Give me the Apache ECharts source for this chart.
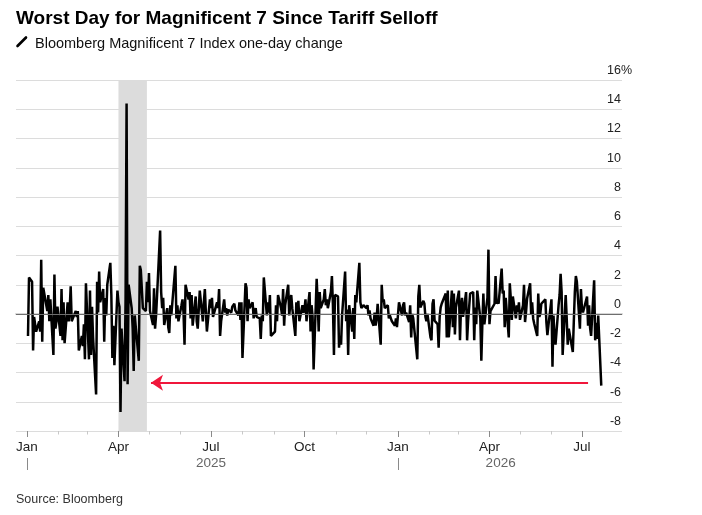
<!DOCTYPE html>
<html>
<head>
<meta charset="utf-8">
<script src="https://cdn.jsdelivr.net/npm/echarts@6/dist/echarts.min.js"></script>
<style>
  html, body { margin: 0; padding: 0; background: #fff; }
  #chart { width: 702px; height: 515px; }
</style>
</head>
<body>
<div id="chart"></div>
<script>
// Bloomberg Magnificent 7 Index, one-day % change, one array per month (trading days in order)
const jan25 = [-1.5, 2.5, 2.2, -2.5, -0.2, -1.2, -0.5, -1.2, 3.7, -1.9, 1.8, 0.2, 1.3, -0.5, 1.0, -2.8, 2.7, -1.0, -0.5, 0.5];
const feb25 = [-1.5, 1.7, -1.8, 0.8, -2.0, 0.8, -0.5, 0.3, 1.9, -0.5, 0.2, -0.2, 0.2, -2.5, -1.5, -2.2, -0.7, -3.1, 2.1];
const mar25 = [-3.1, 1.6, -2.8, 0.5, -1.6, -5.5, 2.2, 0.1, 2.9, 0.8, 1.7, -1.9, 1.1, -0.1, 2.0, 3.5, 1.3, -3.0, -0.8, -3.5, 1.6];
const apr25 = [0.8, 0.5, -6.7, -1.0, -4.6, 1.0, 14.4, -4.8, 2.0, 0.4, -1.0, -3.9, -0.1, -3.2, 3.3, 3.0, 2.9, 0.4, 0.2, 2.2, 0.8];
const may25 = [2.8, 0.2, -0.75, 1.75, -1.0, -0.1, 1.3, 5.7, 1.5, 0.4, 1.1, -0.75, 0.4, -0.9, -1.3, 0.6, -0.1, 3.3, -0.3, 0.6, -0.5];
const jun25 = [0.6, 1.0, 0.1, -2.1, 2.0, 1.0, 1.5, -0.3, 1.3, -0.8, 1.2, -0.5, -1.0, 1.6, -0.5, 0.8, 1.7, 0.1, -1.2, 1.0];
const jul25 = [0.4, 1.1, -0.2, 0.8, 0.4, 1.7, -1.5, -0.5, 1.0, 0.1, 0.4, -0.1, 0.3, 0.1, 0.5, 0.6, 0.7, 0.25, -0.1, 0.8, -0.4, 0.8];
const aug25 = [-3.0, 2.1, 1.8, -0.5, 1.0, 0.4, 0.8, -0.3, 0.1, 0.4, -0.2, -0.3, -1.7, -0.1, -0.5, 2.5, -0.1, 0.8, 0.1, 1.3, -1.5];
const sep25 = [-1.2, 0.6, -0.5, 1.3, 0.4, -0.1, 1.7, -0.8, 0.6, 2.0, -0.1, 0.6, 1.3, 0.4, -1.5, 0.8, -0.1, 0.9, -0.5, 0.6, 0.1];
const oct25 = [0.3, 1.0, -0.5, 1.5, -1.2, 0.6, -0.2, -3.8, 2.4, 0.8, -1.2, 1.5, 0.4, 1.0, 1.7, 0.6, 1.0, 0.4, 1.5, 2.6, 0.6, -2.8, 1.3];
const nov25 = [1.2, -2.3, -1.5, -2.1, -0.1, 2.9, -0.5, 0.3, -2.8, 0.6, -1.2, 0.4, -1.7, 1.3, 0.8, 3.5, 0.8, 0.4, 0.6];
const dec25 = [0.4, 0.6, -0.1, 0.25, -0.3, -0.8, 0.1, -0.8, -0.3, 0.7, -2.1, 2.0, 0.8, 1.0, 0.4, 0.6, -0.3, -0.1, -0.5, -0.8, -0.3, -0.9];
const jan26 = [0.8, -0.1, 0.6, 0.8, -0.1, 0.1, -0.55, 0.6, -1.6, 0.0, -0.3, -3.1, 1.2, 2.0, 0.45, 0.9, 0.7, -0.2, -0.5, 0.0];
const feb26 = [-1.6, -1.8, 0.7, 1.0, -0.45, -0.7, -2.3, -0.2, 0.45, 0.7, 1.4, -1.6, 1.6, -1.6, 1.6, -0.9, 1.4, -1.4, 0.45];
const mar26 = [1.6, -1.8, 0.45, 1.1, -0.2, 1.5, -1.8, -0.45, 0.45, 1.4, 1.5, -1.8, 0.45, -0.7, 1.6, -0.3, -3.2, -0.7, 1.4, -0.7, 1.1, 4.4];
const apr26 = [-0.7, 0.2, 0.7, 2.6, 0.7, 0.9, 0.7, 3.1, 1.4, 1.6, -0.9, 1.1, -1.6, 2.1, 1.05, -0.4, 1.2, -0.3, 0.6, 0.15, 0.8];
const may26 = [-0.4, 0.6, 2.0, -0.55, 0.15, 1.05, 2.1, 0.0, 0.8, -0.3, -0.65, -1.5, 1.4, -0.2, 0.0, 0.7, 1.0, -0.55, -1.45, -0.8];
const jun26 = [1.0, -3.6, -0.1, -1.5, -2.1, 0.6, 1.3, 2.75, 1.5, -2.8, 1.3, -0.3, -2.1, -1.0, -2.6, -0.5, 1.5, 2.6, 2.2, -1.0, 1.7];
const jul26 = [0.35, 0.1, 1.2, -0.8, 0.6, -0.95, -1.5, 2.3, -1.8, -0.6, -1.7, -0.1, -4.9];

// market closures
const holidays = ['2025-01-01', '2025-01-09', '2025-01-20', '2025-02-17', '2025-04-18', '2025-05-26',
  '2025-06-19', '2025-07-04', '2025-09-01', '2025-11-27', '2025-12-25', '2026-01-01', '2026-01-19',
  '2026-02-16', '2026-04-03', '2026-05-25', '2026-06-19', '2026-07-03'];

const monthNames = ['Jan', 'Feb', 'Mar', 'Apr', 'May', 'Jun', 'Jul', 'Aug', 'Sep', 'Oct', 'Nov', 'Dec'];
const quarterTicks = ['2025-01-01', '2025-04-01', '2025-07-01', '2025-10-01', '2026-01-01', '2026-04-01', '2026-07-01'];
const monthTicks = ['2025-02-01', '2025-03-01', '2025-05-01', '2025-06-01', '2025-08-01', '2025-09-01',
  '2025-11-01', '2025-12-01', '2026-02-01', '2026-03-01', '2026-05-01', '2026-06-01'];
const yearLabelDates = ['2025-07-01', '2026-04-12'];
const yearBreaks = ['2025-01-01', '2026-01-01'];
const tariffWindow = ['2025-04-01', '2025-04-29'];
const arrowFrom = ['2026-07-07', -4.7];
const arrowTo = ['2025-05-03', -4.7];

const DAY = 864e5;
const FONT = '"Liberation Sans", Arial, Helvetica, sans-serif';
const pad = n => String(n).padStart(2, '0');
const ts = s => {
  const [y, m, d] = s.split('-').map(Number);
  return new Date(y, m - 1, d).getTime();
};

function tradingDays(year, month) {
  const out = [];
  for (let d = 1; d <= 31; d++) {
    const dt = new Date(year, month - 1, d);
    if (dt.getMonth() !== month - 1) break;
    const key = `${year}-${pad(month)}-${pad(d)}`;
    if (dt.getDay() === 0 || dt.getDay() === 6 || holidays.includes(key)) continue;
    out.push(dt.getTime());
  }
  return out;
}

const months = [
  [2025, 1, jan25], [2025, 2, feb25], [2025, 3, mar25], [2025, 4, apr25], [2025, 5, may25],
  [2025, 6, jun25], [2025, 7, jul25], [2025, 8, aug25], [2025, 9, sep25], [2025, 10, oct25],
  [2025, 11, nov25], [2025, 12, dec25], [2026, 1, jan26], [2026, 2, feb26], [2026, 3, mar26],
  [2026, 4, apr26], [2026, 5, may26], [2026, 6, jun26], [2026, 7, jul26],
];

const points = [];
months.forEach(([y, m, vals]) => {
  const days = tradingDays(y, m);
  vals.forEach((v, i) => {
    if (days[i] !== undefined) points.push([days[i], v]);
  });
});

// x is a plain value axis over timestamps so ticks/labels can sit on chosen dates
const xMin = ts('2025-01-01') - 10.8 * DAY;
const xMax = ts('2025-01-01') + 585.4 * DAY;
const baseX = { type: 'value', position: 'bottom', min: xMin, max: xMax, splitLine: { show: false } };
const tickOnly = (values, length, color, extra) => ({
  ...baseX,
  ...extra,
  axisLine: { show: false },
  axisTick: { show: true, customValues: values.map(ts), length, lineStyle: { color, width: 1 } },
  axisLabel: { show: false },
});

const chart = echarts.init(document.getElementById('chart'));

chart.setOption({
  animation: false,
  backgroundColor: '#fff',
  title: [
    {
      text: 'Worst Day for Magnificent 7 Since Tariff Selloff',
      left: 11, top: 4,
      textStyle: { fontFamily: FONT, fontSize: 19, fontWeight: 'bold', color: '#000' },
    },
    {
      text: 'Bloomberg Magnificent 7 Index one-day change',
      left: 30, top: 31,
      textStyle: { fontFamily: FONT, fontSize: 14.5, fontWeight: 'normal', color: '#111' },
    },
    {
      text: 'Source: Bloomberg',
      left: 11, top: 488,
      textStyle: { fontFamily: FONT, fontSize: 12.5, fontWeight: 'normal', color: '#333' },
    },
  ],
  graphic: [
    {
      type: 'line',
      shape: { x1: 17.5, y1: 46, x2: 26, y2: 37.5 },
      style: { stroke: '#000', lineWidth: 2.6, lineCap: 'round' },
    },
  ],
  grid: { left: 16, right: 80, top: 80, bottom: 84 },
  xAxis: [
    {
      ...baseX,
      axisLine: { show: true, lineStyle: { color: '#d5d5d5', width: 2 } },
      axisTick: { show: false },
      axisLabel: {
        customValues: quarterTicks.map(ts),
        formatter: v => monthNames[new Date(v).getMonth()],
        margin: 9, fontFamily: FONT, fontSize: 13.5, color: '#222',
      },
    },
    tickOnly(quarterTicks, 6, '#8a8a8a'),
    tickOnly(monthTicks, 3.5, '#c8c8c8'),
    {
      ...baseX,
      axisLine: { show: false },
      axisTick: { show: false },
      axisLabel: {
        customValues: yearLabelDates.map(ts),
        formatter: v => String(new Date(v).getFullYear()),
        margin: 25, fontFamily: FONT, fontSize: 13.5, color: '#666',
      },
    },
    tickOnly(yearBreaks, 12, '#8a8a8a', { offset: 27 }),
  ],
  yAxis: {
    type: 'value',
    position: 'right',
    min: -8, max: 16, interval: 2,
    axisLine: { show: false },
    axisTick: { show: false },
    splitLine: { show: true, lineStyle: { color: '#dcdcdc', width: 1 } },
    axisLabel: {
      inside: true,
      margin: -10,
      verticalAlign: 'bottom',
      padding: [0, 0, 3, 0],
      formatter: v => (v === 16 ? '{n|16}{p|%}' : `{n|${v}}{s| }`),
      rich: {
        n: { fontFamily: FONT, fontSize: 12.5, color: '#222' },
        p: { fontFamily: FONT, fontSize: 12.5, color: '#222', width: 11 },
        s: { fontFamily: FONT, fontSize: 12.5, width: 11 },
      },
    },
  },
  series: [
    {
      // background: tariff window and zero line
      type: 'line',
      data: points,
      showSymbol: false,
      silent: true,
      z: 1,
      lineStyle: { opacity: 0 },
      markArea: {
        silent: true,
        itemStyle: { color: '#dcdcdc' },
        data: [[{ xAxis: ts(tariffWindow[0]) }, { xAxis: ts(tariffWindow[1]) }]],
      },
      markLine: {
        silent: true,
        symbol: 'none',
        label: { show: false },
        lineStyle: { color: '#6e6e6e', width: 1.2, type: 'solid' },
        data: [{ yAxis: 0 }],
      },
    },
    {
      type: 'line',
      data: points,
      showSymbol: false,
      silent: true,
      z: 3,
      lineStyle: { color: '#000', width: 2.5 },
      markLine: {
        silent: true,
        symbol: ['none', 'arrow'],
        symbolSize: 12,
        label: { show: false },
        lineStyle: { color: '#f0173b', width: 2, type: 'solid' },
        data: [[
          { coord: [ts(arrowFrom[0]), arrowFrom[1]] },
          { coord: [ts(arrowTo[0]), arrowTo[1]] },
        ]],
      },
    },
  ],
});
</script>
</body>
</html>
